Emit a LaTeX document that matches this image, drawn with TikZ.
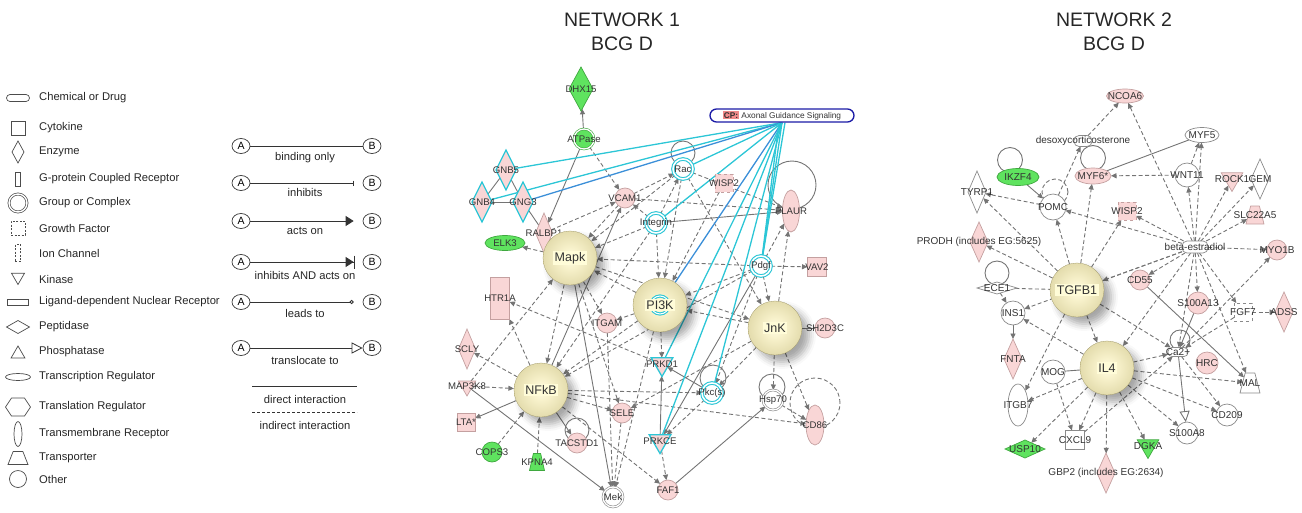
\documentclass[tikz,border=0pt]{standalone}
\usepackage{fontspec}
\setmainfont{Liberation Sans}
\usetikzlibrary{arrows.meta,shapes.geometric,backgrounds,shadows.blur,calc}
\definecolor{pinkf}{HTML}{F9D6D6}
\definecolor{pinkd}{HTML}{C4A0A0}
\definecolor{greenf}{HTML}{5FE35F}
\definecolor{greend}{HTML}{3FA83F}
\definecolor{cyanl}{HTML}{2CC6D6}
\definecolor{bluel}{HTML}{3B8FD8}
\definecolor{cpblue}{HTML}{1B1BA6}
\definecolor{cppink}{HTML}{F08A8A}
\definecolor{edgec}{HTML}{747474}
\definecolor{txt}{HTML}{333333}
\definecolor{bigin}{HTML}{FFFDE6}
\definecolor{biga}{HTML}{F8F2CC}
\definecolor{bigmid}{HTML}{DDD5A3}
\definecolor{bigout}{HTML}{BFB57E}
\definecolor{bgtxt}{HTML}{FFFCD8}
\definecolor{wbord}{HTML}{8A8A8A}
\pgfdeclareradialshading{bigshade}{\pgfpoint{0bp}{0bp}}{color(0bp)=(bigin); color(9bp)=(biga); color(30bp)=(bigmid); color(50bp)=(bigout); color(100bp)=(bigout)}
\tikzset{
  nb/.style={inner sep=0pt, outer sep=0pt, line width=0.7pt},
  pk/.style={nb, draw=pinkd, fill=pinkf},
  gr/.style={nb, draw=greend, fill=greenf},
  wh/.style={nb, draw=wbord, fill=white},
  hlw/.style={draw=cyanl, line width=1.3pt},
  hlg/.style={nb, draw=cyanl, fill=white, double=white, double distance=1.5pt, line width=1.1pt},
  grp/.style={double=white, double distance=1.3pt, line width=0.6pt},
  lb/.style={font=\fontsize{9.6}{10}\selectfont, text=txt, inner sep=0pt},
  lb2/.style={font=\fontsize{10}{11}\selectfont, text=txt, inner sep=0pt},
  circ/.style={circle, minimum size=#1},
  sq/.style={rectangle, minimum size=#1},
  rct/.style 2 args={rectangle, minimum width=#1, minimum height=#2},
  dia/.style 2 args={diamond, minimum width=#1, minimum height=#2},
  el/.style 2 args={ellipse, minimum width=#1, minimum height=#2},
  kin/.style={regular polygon, regular polygon sides=3, shape border rotate=180, minimum size=#1},
  trp/.style 2 args={trapezium, inner sep=1pt, trapezium stretches=true, trapezium left angle=62, trapezium right angle=62, minimum width=#1, minimum height=#2},
  big/.style={circle, minimum size=54, inner sep=0pt, draw=bigout!85!black, line width=0.3pt, shading=bigshade, blur shadow={shadow xshift=7pt, shadow yshift=-7pt, shadow blur radius=7pt, shadow opacity=35}},
  bigl/.style={font=\fontsize{12.5}{13}\selectfont, text=txt, fill=bgtxt, inner sep=1.5pt},
  sl/.style={draw=edgec, line width=0.9pt},
  dl/.style={sl, dash pattern=on 4pt off 2.5pt},
  ar/.style={sl, -{Triangle[length=5.5pt,width=5pt]}},
  da/.style={ar, dash pattern=on 4pt off 2.5pt},
  cy/.style={draw=cyanl, line width=1.3pt},
  cyb/.style={draw=bluel, line width=1.3pt},
  lgs/.style={inner sep=0pt, outer sep=0pt, draw=black!70, fill=white, line width=0.7pt},
  lgt/.style={font=\fontsize{11.2}{13}\selectfont, text=black!85, anchor=west, inner sep=0pt},
  lgc/.style={font=\fontsize{11.2}{13}\selectfont, text=black!85, inner sep=0pt},
  abn/.style={ellipse, draw=black!80, line width=0.7pt, minimum width=18, minimum height=15, inner sep=0pt, font=\fontsize{10.5}{11}\selectfont},
  lgl/.style={draw=black!80, line width=0.8pt},
  ttl/.style={font=\fontsize{19.5}{21}\selectfont, text=black!85, inner sep=0pt}
}
\begin{document}
\begin{tikzpicture}[x=1pt,y=-1pt]
\useasboundingbox (0,0) rectangle (1302,512);

% ---------- titles ----------
\node[ttl] (t1a) at (622,20) {NETWORK 1};
\node[ttl] (t1b) at (622,43.5) {BCG D};
\node[ttl] (t2a) at (1114,20) {NETWORK 2};
\node[ttl] (t2b) at (1114,43.5) {BCG D};

% ---------- legend: shapes ----------
\node[lgs,rectangle,rounded corners=3.5pt,minimum width=23,minimum height=7] (lg1) at (18,98) {};
\node[lgt] (lt1) at (39,98) {Chemical or Drug};
\node[lgs,rectangle,minimum size=14] (lg2) at (18,128) {};
\node[lgt] (lt2) at (39,128) {Cytokine};
\node[lgs,diamond,minimum width=12,minimum height=22] (lg3) at (18,152) {};
\node[lgt] (lt3) at (39,152) {Enzyme};
\node[lgs,rectangle,minimum width=5,minimum height=14] (lg4) at (18,179) {};
\node[lgt] (lt4) at (39,179) {G-protein Coupled Receptor};
\node[lgs,circle,double,double distance=1.4pt,minimum size=18] (lg5) at (18,203) {};
\node[lgt] (lt5) at (39,203) {Group or Complex};
\node[lgs,rectangle,dash pattern=on 2pt off 1.5pt,minimum size=14] (lg6) at (18,228) {};
\node[lgt] (lt6) at (39,228) {Growth Factor};
\node[lgs,rectangle,dash pattern=on 2pt off 1.5pt,minimum width=5.5,minimum height=17] (lg7) at (18,253) {};
\node[lgt] (lt7) at (39,253) {Ion Channel};
\node[lgs,kin=15] (lg8) at (18,277) {};
\node[lgt] (lt8) at (39,279) {Kinase};
\node[lgs,rectangle,minimum width=21,minimum height=6] (lg9) at (18,302) {};
\node[lgt] (lt9) at (39,302) {Ligand-dependent Nuclear Receptor};
\node[lgs,diamond,minimum width=23,minimum height=13] (lg10) at (18,327) {};
\node[lgt] (lt10) at (39,327) {Peptidase};
\node[lgs,regular polygon,regular polygon sides=3,minimum size=16] (lg11) at (18,354) {};
\node[lgt] (lt11) at (39,352) {Phosphatase};
\node[lgs,ellipse,minimum width=25,minimum height=7] (lg12) at (18,377) {};
\node[lgt] (lt12) at (39,377) {Transcription Regulator};
\draw[lgs] (5.5,407) -- (11.5,398) -- (24.5,398) -- (30.5,407) -- (24.5,416) -- (11.5,416) -- cycle;
\node[lgt] (lt13) at (39,407) {Translation Regulator};
\node[lgs,ellipse,minimum width=8,minimum height=25] (lg14) at (18,434) {};
\node[lgt] (lt14) at (39,434) {Transmembrane Receptor};
\node[lgs,trp={20}{13}] (lg15) at (18,458) {};
\node[lgt] (lt15) at (39,458) {Transporter};
\node[lgs,circle,minimum size=17] (lg16) at (18,479) {};
\node[lgt] (lt16) at (39,479) {Other};

% ---------- legend: relations ----------
\node[abn] (a1) at (241,146) {A}; \node[abn] (b1) at (372,146) {B};
\draw[lgl] (a1) -- (b1);
\node[lgc] (l1) at (305,158) {binding only};
\node[abn] (a2) at (241,183) {A}; \node[abn] (b2) at (372,183) {B};
\draw[lgl,-{Bar[width=5pt,line width=0.8pt]},shorten >=9pt] (a2) -- (b2);
\node[lgc] (l2) at (305,192) {inhibits};
\node[abn] (a3) at (241,221) {A}; \node[abn] (b3) at (372,221) {B};
\draw[lgl,-{Triangle[length=8pt,width=10pt]},shorten >=9pt] (a3) -- (b3);
\node[lgc] (l3) at (305,231) {acts on};
\node[abn] (a4) at (241,262) {A}; \node[abn] (b4) at (372,262) {B};
\draw[lgl,-{Triangle[length=8pt,width=10pt]Bar[width=13pt,line width=1pt]},shorten >=8pt] (a4) -- (b4);
\node[lgc] (l4) at (305,275) {inhibits AND acts on};
\node[abn] (a5) at (241,302) {A}; \node[abn] (b5) at (372,302) {B};
\draw[lgl,-{Circle[open,length=4pt,width=4pt]},shorten >=9pt] (a5) -- (b5);
\node[lgc] (l5) at (305,313) {leads to};
\node[abn] (a6) at (241,348) {A}; \node[abn] (b6) at (372,348) {B};
\draw[lgl,-{Triangle[open,length=11pt,width=11pt]}] (a6) -- (b6);
\node[lgc] (l6) at (305,360) {translocate to};
\coordinate (d1) at (252,386); \coordinate (d2) at (357,386);
\draw[lgl] (d1) -- (d2);
\node[lgc] (l7) at (305,399) {direct interaction};
\coordinate (d3) at (252,412); \coordinate (d4) at (357,412);
\draw[lgl,dash pattern=on 3pt off 2pt] (d3) -- (d4);
\node[lgc] (l8) at (305,425) {indirect interaction};

% ---------- network 1 nodes ----------
\node[draw=cpblue, line width=1.3pt, rounded corners=6.5pt, minimum width=144, minimum height=13, fill=white, inner sep=0pt, font=\fontsize{8.3}{9}\selectfont, text=txt] (cp) at (782,115.5) {\setlength{\fboxsep}{1pt}\colorbox{cppink}{\textbf{\color{black!80}CP:}}\ Axonal Guidance Signaling};
\node[gr,dia={24}{44},label={[lb]center:DHX15}] (dhx) at (581,89) {};
\node[gr,grp,circ=20,label={[lb]center:ATPase}] (atp) at (584,139) {};
\node[pk,hlw,dia={20}{40},label={[lb]center:GNB5}] (gnb5) at (506,170) {};
\node[pk,hlw,dia={20}{40},label={[lb]center:GNB4}] (gnb4) at (482,202) {};
\node[pk,hlw,dia={20}{40},label={[lb]center:GNG3}] (gng3) at (523,202) {};
\node[pk,dia={17}{40},label={[lb]center:RALBP1}] (ralbp) at (544,233) {};
\node[gr,el={40}{15},label={[lb]center:ELK3}] (elk3) at (505,243) {};
\node[pk,circ=20,label={[lb]center:VCAM1}] (vcam) at (625,198) {};
\node[hlg,circ=20,label={[lb]center:Integrin}] (integ) at (656,223) {};
\node[hlg,circ=20,label={[lb]center:Rac}] (rac) at (683,169) {};
\node[pk,dashed,sq=18,label={[lb]center:WISP2}] (wisp) at (724,183) {};
\node[pk,el={17}{42},label={[lb]center:PLAUR}] (plaur) at (791,211) {};
\node[hlg,circ=20,label={[lb]center:Pdgf}] (pdgf) at (761,266) {};
\node[pk,sq=19,label={[lb]center:VAV2}] (vav2) at (817,267) {};
\node[pk,rct={19}{42},label={[lb]center:HTR1A}] (htr) at (500,298) {};
\node[pk,circ=20,label={[lb]center:ITGAM}] (itgam) at (607,323) {};
\node[pk,dia={17}{40},label={[lb]center:SCLY}] (scly) at (467,349) {};
\node[pk,kin=20,label={[lb]center:MAP3K8}] (map3k8) at (467,386) {};
\node[pk,sq=18,label={[lb]center:LTA*}] (lta) at (466,422) {};
\node[gr,circ=20,label={[lb]center:COPS3}] (cops) at (492,452) {};
\node[gr,trp={15}{17},label={[lb]center:KPNA4}] (kpna) at (537,462) {};
\node[pk,circ=20,label={[lb]center:TACSTD1}] (tacs) at (577,443) {};
\node[pk,circ=20,label={[lb]center:SELE}] (sele) at (622,413) {};
\node[pk,hlw,kin=25,label={[lb]center:PRKD1}] (prkd1) at (662,364) {};
\node[hlg,circ=20,label={[lb]center:Pkc(s)}] (pkcs) at (712,393) {};
\node[wh,grp,circ=20,label={[lb]center:Hsp70}] (hsp) at (773,400) {};
\node[pk,el={18}{40},label={[lb]center:CD86}] (cd86) at (815,425) {};
\node[pk,hlw,kin=25,label={[lb]center:PRKCE}] (prkce) at (660,441) {};
\node[wh,grp,circ=20,label={[lb]center:Mek}] (mek) at (613,497) {};
\node[pk,circ=20,label={[lb]center:FAF1}] (faf) at (668,490) {};
\node[pk,circ=20,label={[lb]center:SH2D3C}] (sh2) at (825,328) {};
\node[big] (mapk) at (570,258) {};
\node[bigl] (mapkl) at (mapk) {Mapk};
\node[big] (pi3k) at (660,305) {};
\draw[cyanl, line width=1.1pt, double=white, double distance=1pt] (pi3k) circle[radius=9pt];
\node[bigl] (pi3kl) at (pi3k) {PI3K};
\node[big] (jnk) at (775,328) {};
\node[bigl] (jnkl) at (jnk) {JnK};
\node[big] (nfkb) at (541,390) {};
\node[bigl] (nfkbl) at (nfkb) {NFkB};

% ---------- network 2 nodes ----------
\node[wh,rectangle,rounded corners=5pt,minimum width=18,minimum height=11,label={[lb2]center:desoxycorticosterone}] (desoxy) at (1083,141) {};
\node[pk,el={37}{14},label={[lb2]center:NCOA6}] (ncoa6) at (1125,96) {};
\node[wh,el={34}{15},label={[lb2]center:MYF5}] (myf5) at (1202,135) {};
\node[pk,el={36}{16},label={[lb2]center:MYF6*}] (myf6) at (1093,176) {};
\node[gr,el={42}{17},label={[lb2]center:IKZF4}] (ikzf4) at (1018,177) {};
\node[wh,circ=24,label={[lb2]center:WNT11}] (wnt11) at (1187,175) {};
\node[pk,kin=25,label={[lb2]center:ROCK1}] (rock1) at (1232,179) {};
\node[wh,dia={18}{40},label={[lb2]center:GEM}] (gem) at (1260,179) {};
\node[wh,dia={18}{42},label={[lb2]center:TYRP1}] (tyrp1) at (977,192) {};
\node[wh,circ=26,label={[lb2]center:POMC}] (pomc) at (1053,207) {};
\node[pk,dashed,sq=18,label={[lb2]center:WISP2}] (wisp2b) at (1127,211) {};
\node[pk,trp={18}{18},label={[lb2]center:SLC22A5}] (slc) at (1255,215) {};
\node[pk,dia={18}{40},label={[lb2]center:PRODH (includes EG:5625)}] (prodh) at (979,242) {};
\node[wh,rectangle,rounded corners=5pt,minimum width=26,minimum height=12,label={[lb2]center:beta-estradiol}] (estr) at (1195,247) {};
\node[pk,circ=20,label={[lb2]center:MYO1B}] (myo1b) at (1277,250) {};
\node[pk,circ=20,label={[lb2]center:CD55}] (cd55) at (1140,280) {};
\node[wh,dia={40}{12},label={[lb2]center:ECE1}] (ece1) at (997,288) {};
\node[pk,circ=22,label={[lb2]center:S100A13}] (s100a13) at (1198,303) {};
\node[wh,dashed,sq=18,label={[lb2]center:FGF7}] (fgf7) at (1243,312) {};
\node[pk,dia={18}{40},label={[lb2]center:ADSS}] (adss) at (1284,312) {};
\node[wh,circ=24,label={[lb2]center:INS1}] (ins1) at (1013,313) {};
\node[wh,rectangle,rounded corners=4pt,minimum width=20,minimum height=9,label={[lb2]center:Ca2+}] (ca2) at (1178,352) {};
\node[pk,dia={18}{40},label={[lb2]center:FNTA}] (fnta) at (1013,359) {};
\node[pk,circ=22,label={[lb2]center:HRC}] (hrc) at (1207,363) {};
\node[wh,circ=24,label={[lb2]center:MOG}] (mog) at (1053,372) {};
\node[wh,trp={20}{20},label={[lb2]center:MAL}] (mal) at (1250,383) {};
\node[wh,el={20}{42},label={[lb2]center:ITGB7}] (itgb7) at (1018,405) {};
\node[wh,circ=22,label={[lb2]center:CD209}] (cd209) at (1227,415) {};
\node[wh,circ=22,label={[lb2]center:S100A8}] (s100a8) at (1187,433) {};
\node[wh,sq=19,label={[lb2]center:CXCL9}] (cxcl9) at (1075,440) {};
\node[gr,kin=25,label={[lb2]center:DGKA}] (dgka) at (1148,446) {};
\node[gr,dia={40}{18},label={[lb2]center:USP10}] (usp10) at (1025,449) {};
\node[pk,dia={18}{40},label={[lb2]center:GBP2 (includes EG:2634)}] (gbp2) at (1106,473) {};
\node[big] (tgfb1) at (1077,290) {};
\node[bigl] (tgfbl) at (tgfb1) {TGFB1};
\node[big] (il4) at (1107,368) {};
\node[bigl] (il4l) at (il4) {IL4};

% ---------- edges ----------
\begin{scope}[on background layer]
% network 1 self loops
\draw[sl] ($(rac)+(0,-16)$) circle[radius=12pt];
\draw[sl] ($(plaur)+(1,-26)$) circle[radius=24pt];
\draw[sl] ($(tacs)+(0,-13)$) circle[radius=12pt];
\draw[sl] ($(pkcs)+(1,-15)$) circle[radius=13pt];
\draw[sl] ($(hsp)+(-1,-13)$) circle[radius=13pt];
\draw[dl] ($(cd86)+(0,-22)$) circle[radius=25pt];
% network 1 solid
\draw[ar] (atp) -- (dhx);
\draw[ar] (atp) -- (ralbp);
\draw[ar] (ralbp) -- (mapk);
\draw[ar] (nfkb) -- (vcam);
\draw[ar] (integ) -- (plaur);
\draw[ar] (map3k8) -- (mek);
\draw[ar] (nfkb) -- (lta);
\draw[ar] (nfkb) -- (tacs);
\draw[ar] (prkce) -- (prkd1);
\draw[ar] (pkcs) -- (prkd1);
\draw[ar] (faf) -- (hsp);
\draw[ar] (mapk) -- (mek);
\draw[ar] (pdgf) -- (prkce);
\draw[sl] (gnb5) -- (gnb4);
\draw[sl] (gnb5) -- (gng3);
\draw[sl] (gnb4) -- (gng3);
\draw[sl] (gng3) -- (ralbp);
\draw[sl] (jnk) -- (sh2);
% network 1 dashed
\draw[da] (atp) -- (vcam);
\draw[da] (mapk) -- (elk3);
\draw[da] (ralbp) -- (vcam);
\draw[da] (integ) -- (vcam);
\draw[da] (vcam) -- (rac);
\draw[da] (integ) -- (rac);
\draw[da] (vcam) -- (plaur);
\draw[da] (rac) -- (plaur);
\draw[da] (pdgf) -- (plaur);
\draw[da] (jnk) -- (plaur);
\draw[da] (pdgf) -- (vav2);
\draw[da] (pdgf) -- (jnk);
\draw[da] (pdgf) -- (pi3k);
\draw[da] (pdgf) -- (mapk);
\draw[da] (pdgf) -- (nfkb);
\draw[da] (pdgf) -- (pkcs);
\draw[da] (vcam) -- (mapk);
\draw[da] (integ) -- (mapk);
\draw[da] (integ) -- (pi3k);
\draw[da] (rac) -- (pi3k);
\draw[da] (rac) -- (mapk);
\draw[da] (rac) -- (jnk);
\draw[da] (wisp) -- (pi3k);
\draw[da] (mapk) -- (itgam);
\draw[da] (prkd1) -- (htr);
\draw[da] (nfkb) -- (htr);
\draw[da] (nfkb) -- (scly);
\draw[da] (map3k8) -- (nfkb);
\draw[da] (map3k8) -- (mapk);
\draw[da] (cops) -- (nfkb);
\draw[da] (kpna) -- (nfkb);
\draw[da] (nfkb) -- (sele);
\draw[da] (sele) -- (mek);
\draw[da] (itgam) -- (mek);
\draw[da] (pi3k) -- (nfkb);
\draw[da] (mapk) -- (nfkb);
\draw[da] (pi3k) -- (mapk);
\draw[da] (jnk) -- (pi3k);
\draw[da] (pi3k) -- (prkd1);
\draw[da] (pkcs) -- (prkce);
\draw[da] (jnk) -- (pkcs);
\draw[da] (hsp) -- (cd86);
\draw[da] (jnk) -- (cd86);
\draw[da] (jnk) -- (hsp);
\draw[da] (nfkb) -- (cd86);
\draw[da] (prkce) -- (faf);
\draw[da] (nfkb) -- (faf);
\draw[da] (jnk) -- (sele);
\draw[da] (mapk) -- (sele);
\draw[da] (pi3k) -- (itgam);
\draw[da] (nfkb) -- (pkcs);
\draw[da] (mapk) -- (jnk);
\draw[da] (integ) -- (nfkb);
\draw[da] (pi3k) -- (mek);
% network 1 canonical pathway links
\draw[cy] (cp.south) -- (gnb5);
\draw[cy] (cp.south) -- (gnb4);
\draw[cyb] (cp.south) -- (gng3);
\draw[cy] (cp.south) -- (rac);
\draw[cy] (cp.south) -- (integ);
\draw[cyb] (cp.south) -- (pi3k);
\draw[cy] (cp.south) -- (pkcs);
\draw[cy] (cp.south) -- (prkce);
\draw[cy] (cp.south) -- (prkd1);
\draw[cy] ([xshift=-3pt]cp.south) -- (pdgf);
\draw[cy] (cp.south) -- (pdgf);
\draw[cy] ([xshift=3pt]cp.south) -- (pdgf);

% network 2 self loops
\draw[sl] ($(ikzf4)+(-8,-17)$) circle[radius=12.5pt];
\draw[dl] ($(pomc)+(2,-15)$) circle[radius=13pt];
\draw[sl] ($(myf6)+(0,-18)$) circle[radius=12.5pt];
\draw[sl] ($(ece1)+(0,-15)$) circle[radius=12pt];
\draw[sl] ($(ca2)+(2,-12)$) circle[radius=10pt];
% network 2 solid
\draw[ar] (ikzf4) -- (pomc);
\draw[ar] (ins1) -- (fnta);
\draw[ar] (cd55) -- (mal);
\draw[ar] (s100a13) -- (ca2);
\draw[sl,-{Triangle[open,length=11pt,width=10pt]}] (ca2) -- (s100a8);
\draw[sl] (myf6) -- (myf5);
\draw[sl] (mog) -- (il4);
% network 2 dashed
\draw[da] (desoxy) -- (ncoa6);
\draw[da] (pomc) -- (desoxy);
\draw[da] (wnt11) -- (myf6);
\draw[da] (wnt11) -- (myf5);
\draw[da] (estr) -- (myf5);
\draw[da] (estr) -- (ncoa6);
\draw[da] (estr) -- (wnt11);
\draw[da] (estr) -- (rock1);
\draw[da] (estr) -- (gem);
\draw[da] (estr) -- (slc);
\draw[da] (estr) -- (myo1b);
\draw[da] (estr) -- (wisp2b);
\draw[da] (estr) -- (pomc);
\draw[da] (estr) -- (cd55);
\draw[da] (estr) -- (s100a13);
\draw[da] (estr) -- (fgf7);
\draw[da] (estr) -- (mal);
\draw[da] (estr) -- (ca2);
\draw[da] (estr) -- (tgfb1);
\draw[da] (estr) -- (il4);
\draw[da] (estr) -- (ins1);
\draw[da] (pomc) -- (tyrp1);
\draw[da] (tgfb1) -- (tyrp1);
\draw[da] (tgfb1) -- (prodh);
\draw[da] (tgfb1) -- (pomc);
\draw[da] (tgfb1) -- (myf6);
\draw[da] (tgfb1) -- (wisp2b);
\draw[dl] (ece1) -- (tgfb1);
\draw[da] (ece1) -- (ins1);
\draw[da] (tgfb1) -- (itgb7);
\draw[da] (il4) -- (itgb7);
\draw[da] (mog) -- (cxcl9);
\draw[da] (il4) -- (cxcl9);
\draw[da] (il4) -- (usp10);
\draw[da] (il4) -- (gbp2);
\draw[da] (il4) -- (dgka);
\draw[da] (il4) -- (s100a8);
\draw[da] (il4) -- (cd209);
\draw[da] (il4) -- (mal);
\draw[da] (il4) -- (ca2);
\draw[da] (il4) -- (ins1);
\draw[da] (tgfb1) -- (ca2);
\draw[da] (tgfb1) -- (il4);
\draw[da] (fgf7) -- (adss);
\draw[da] (fgf7) -- (ca2);
\draw[da] (cxcl9) -- (ca2);
\draw[da] (ca2) -- (myo1b);
\draw[da] (ca2) -- (cd209);
\end{scope}
\end{tikzpicture}
\end{document}
